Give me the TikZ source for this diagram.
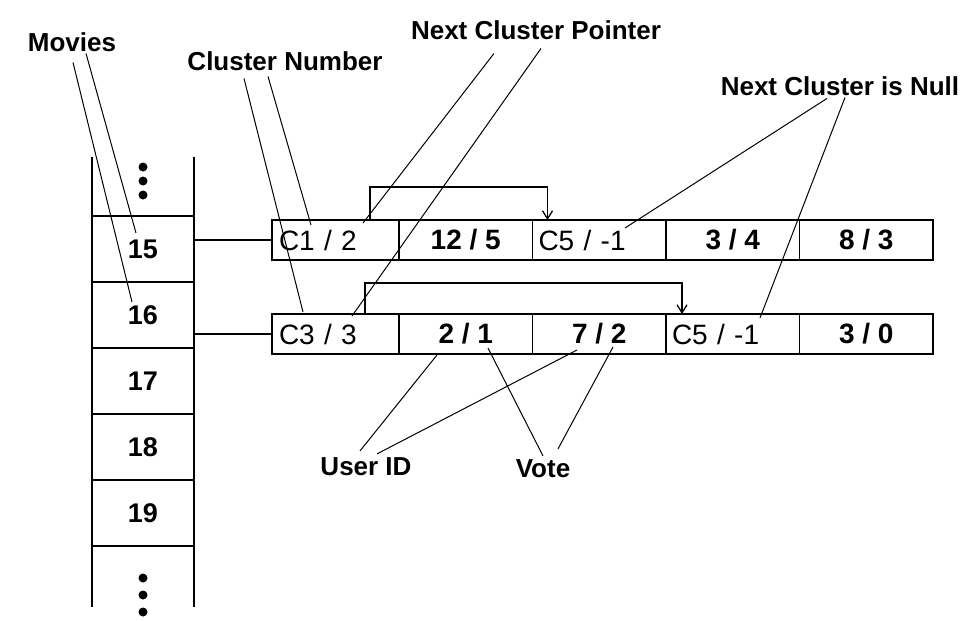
\documentclass[tikz,border=0pt]{standalone}
\usepackage{fontspec}
\setmainfont{Liberation Sans}
\usetikzlibrary{positioning, arrows.meta}

\begin{document}
\begin{tikzpicture}[
        x=1pt, y=-1pt,
        % Styles
        slot/.style={draw, line width=1.4pt, minimum width=102pt, minimum height=66pt, outer sep=0pt, inner sep=0pt, font=\fontsize{27}{30}\selectfont\bfseries},
        cell/.style={draw, line width=1.6pt, minimum width=133.5pt, minimum height=40pt, outer sep=0pt, inner sep=0pt, font=\fontsize{28}{30}\selectfont\bfseries},
        head/.style={cell, font=\fontsize{28}{30}\selectfont, text width=#1, align=left, inner xsep=6pt},
        rail/.style={line width=1.4pt},
        ptr/.style={line width=1.3pt, -{Straight Barb[length=8pt, width=10pt]}},
        lead/.style={line width=1pt},
        lbl/.style={font=\fontsize{26}{30}\selectfont\bfseries, inner sep=2pt},
    ]
        \useasboundingbox (0,0) rectangle (980,621);

        % === Movie table (open ladder) ===
        \node[slot] (m15) at (143,249) {15};
        \foreach \n [remember=\n as \prev (initially 15)] in {16,...,19}
            \node[slot, below=0pt of m\prev] (m\n) {\n};

        \draw[rail] (m15.north west) -- ++(0,-59);
        \draw[rail] (m15.north east) -- ++(0,-59);
        \draw[rail] (m19.south west) -- ++(0,61);
        \draw[rail] (m19.south east) -- ++(0,61);

        % dots above and below
        \foreach \d in {21,35,49}
            \fill ([yshift=\d pt]m15.north) circle (4.5pt);
        \foreach \d in {32,49,66}
            \fill ([yshift=-\d pt]m19.south) circle (4.5pt);

        % === Cluster chain of movie 15 ===
        \node[head=113pt, minimum width=127pt, anchor=north west, inner xsep=7pt] (r1a) at (272,220) {C1 / 2};
        \node[cell, right=0pt of r1a] (r1b) {12 / 5};
        \node[head=121.5pt, right=0pt of r1b] (r1c) {C5 / -1};
        \node[cell, right=0pt of r1c] (r1d) {3 / 4};
        \node[cell, right=0pt of r1d] (r1e) {8 / 3};

        % === Cluster chain of movie 16 ===
        \node[head=113pt, minimum width=127pt, anchor=north west, inner xsep=7pt] (r2a) at (272,314) {C3 / 3};
        \node[cell, right=0pt of r2a] (r2b) {2 / 1};
        \node[cell, right=0pt of r2b] (r2c) {7 / 2};
        \node[head=121.5pt, right=0pt of r2c] (r2d) {C5 / -1};
        \node[cell, right=0pt of r2d] (r2e) {3 / 0};

        % table rows to their chains
        \draw[rail] (r1a.west) -- (r1a.west -| m15.east);
        \draw[rail] (r2a.west) -- (r2a.west -| m16.east);

        % next cluster pointers
        \draw[ptr] ([xshift=98pt]r1a.north west) -- ++(0,-33) -| ([xshift=15pt]r1c.north west);
        \draw[ptr] ([xshift=93pt]r2a.north west) -- ++(0,-31) -| ([xshift=16pt]r2d.north west);

        % === Labels ===
        \node[lbl, anchor=base] (movies) at (72,51) {Movies};
        \node[lbl, anchor=base] (clnum) at (285,70) {Cluster Number};
        \node[lbl, anchor=base] (nextptr) at (536,39) {Next Cluster Pointer};
        \node[lbl, anchor=base] (nextnull) at (840,95) {Next Cluster is Null};
        \node[lbl, anchor=base] (userid) at (366,475) {User ID};
        \node[lbl, anchor=base] (vote) at (543,477) {Vote};

        % leader ends
        \coordinate (m15tip) at (136,233);
        \coordinate (m16tip) at (132,302);
        \coordinate (c1tip) at (311,225);
        \coordinate (c3tip) at (303,312);
        \coordinate (p1tip) at (363,223);
        \coordinate (p2tip) at (352,316);
        \coordinate (n1tip) at (625,228);
        \coordinate (n2tip) at (760,318);
        \coordinate (u1tip) at (437,355);
        \coordinate (u2tip) at (577,350);
        \coordinate (v1tip) at (488,348);
        \coordinate (v2tip) at (613,347);

        % === Leader lines ===
        \draw[lead] ([xshift=1pt, yshift=-9pt]movies.south) -- (m16tip);
        \draw[lead] ([xshift=14pt]movies.south) -- (m15tip);
        \draw[lead] ([xshift=-41pt, yshift=-6pt]clnum.south) -- (c3tip);
        \draw[lead] ([xshift=-17pt, yshift=-4pt]clnum.south) -- (c1tip);
        \draw[lead] ([xshift=-42pt, yshift=-12pt]nextptr.south) -- (p1tip);
        \draw[lead] ([xshift=5pt, yshift=-7pt]nextptr.south) -- (p2tip);
        \draw[lead] ([xshift=-13pt, yshift=-1pt]nextnull.south) -- (n1tip);
        \draw[lead] ([xshift=5pt]nextnull.south) -- (n2tip);
        \draw[lead] ([xshift=-6pt, yshift=4pt]userid.north) -- (u1tip);
        \draw[lead] ([xshift=11pt, yshift=1pt]userid.north) -- (u2tip);
        \draw[lead] ([yshift=1pt]vote.north) -- (v1tip);
        \draw[lead] ([xshift=15pt, yshift=8pt]vote.north) -- (v2tip);

    \end{tikzpicture}
\end{document}
